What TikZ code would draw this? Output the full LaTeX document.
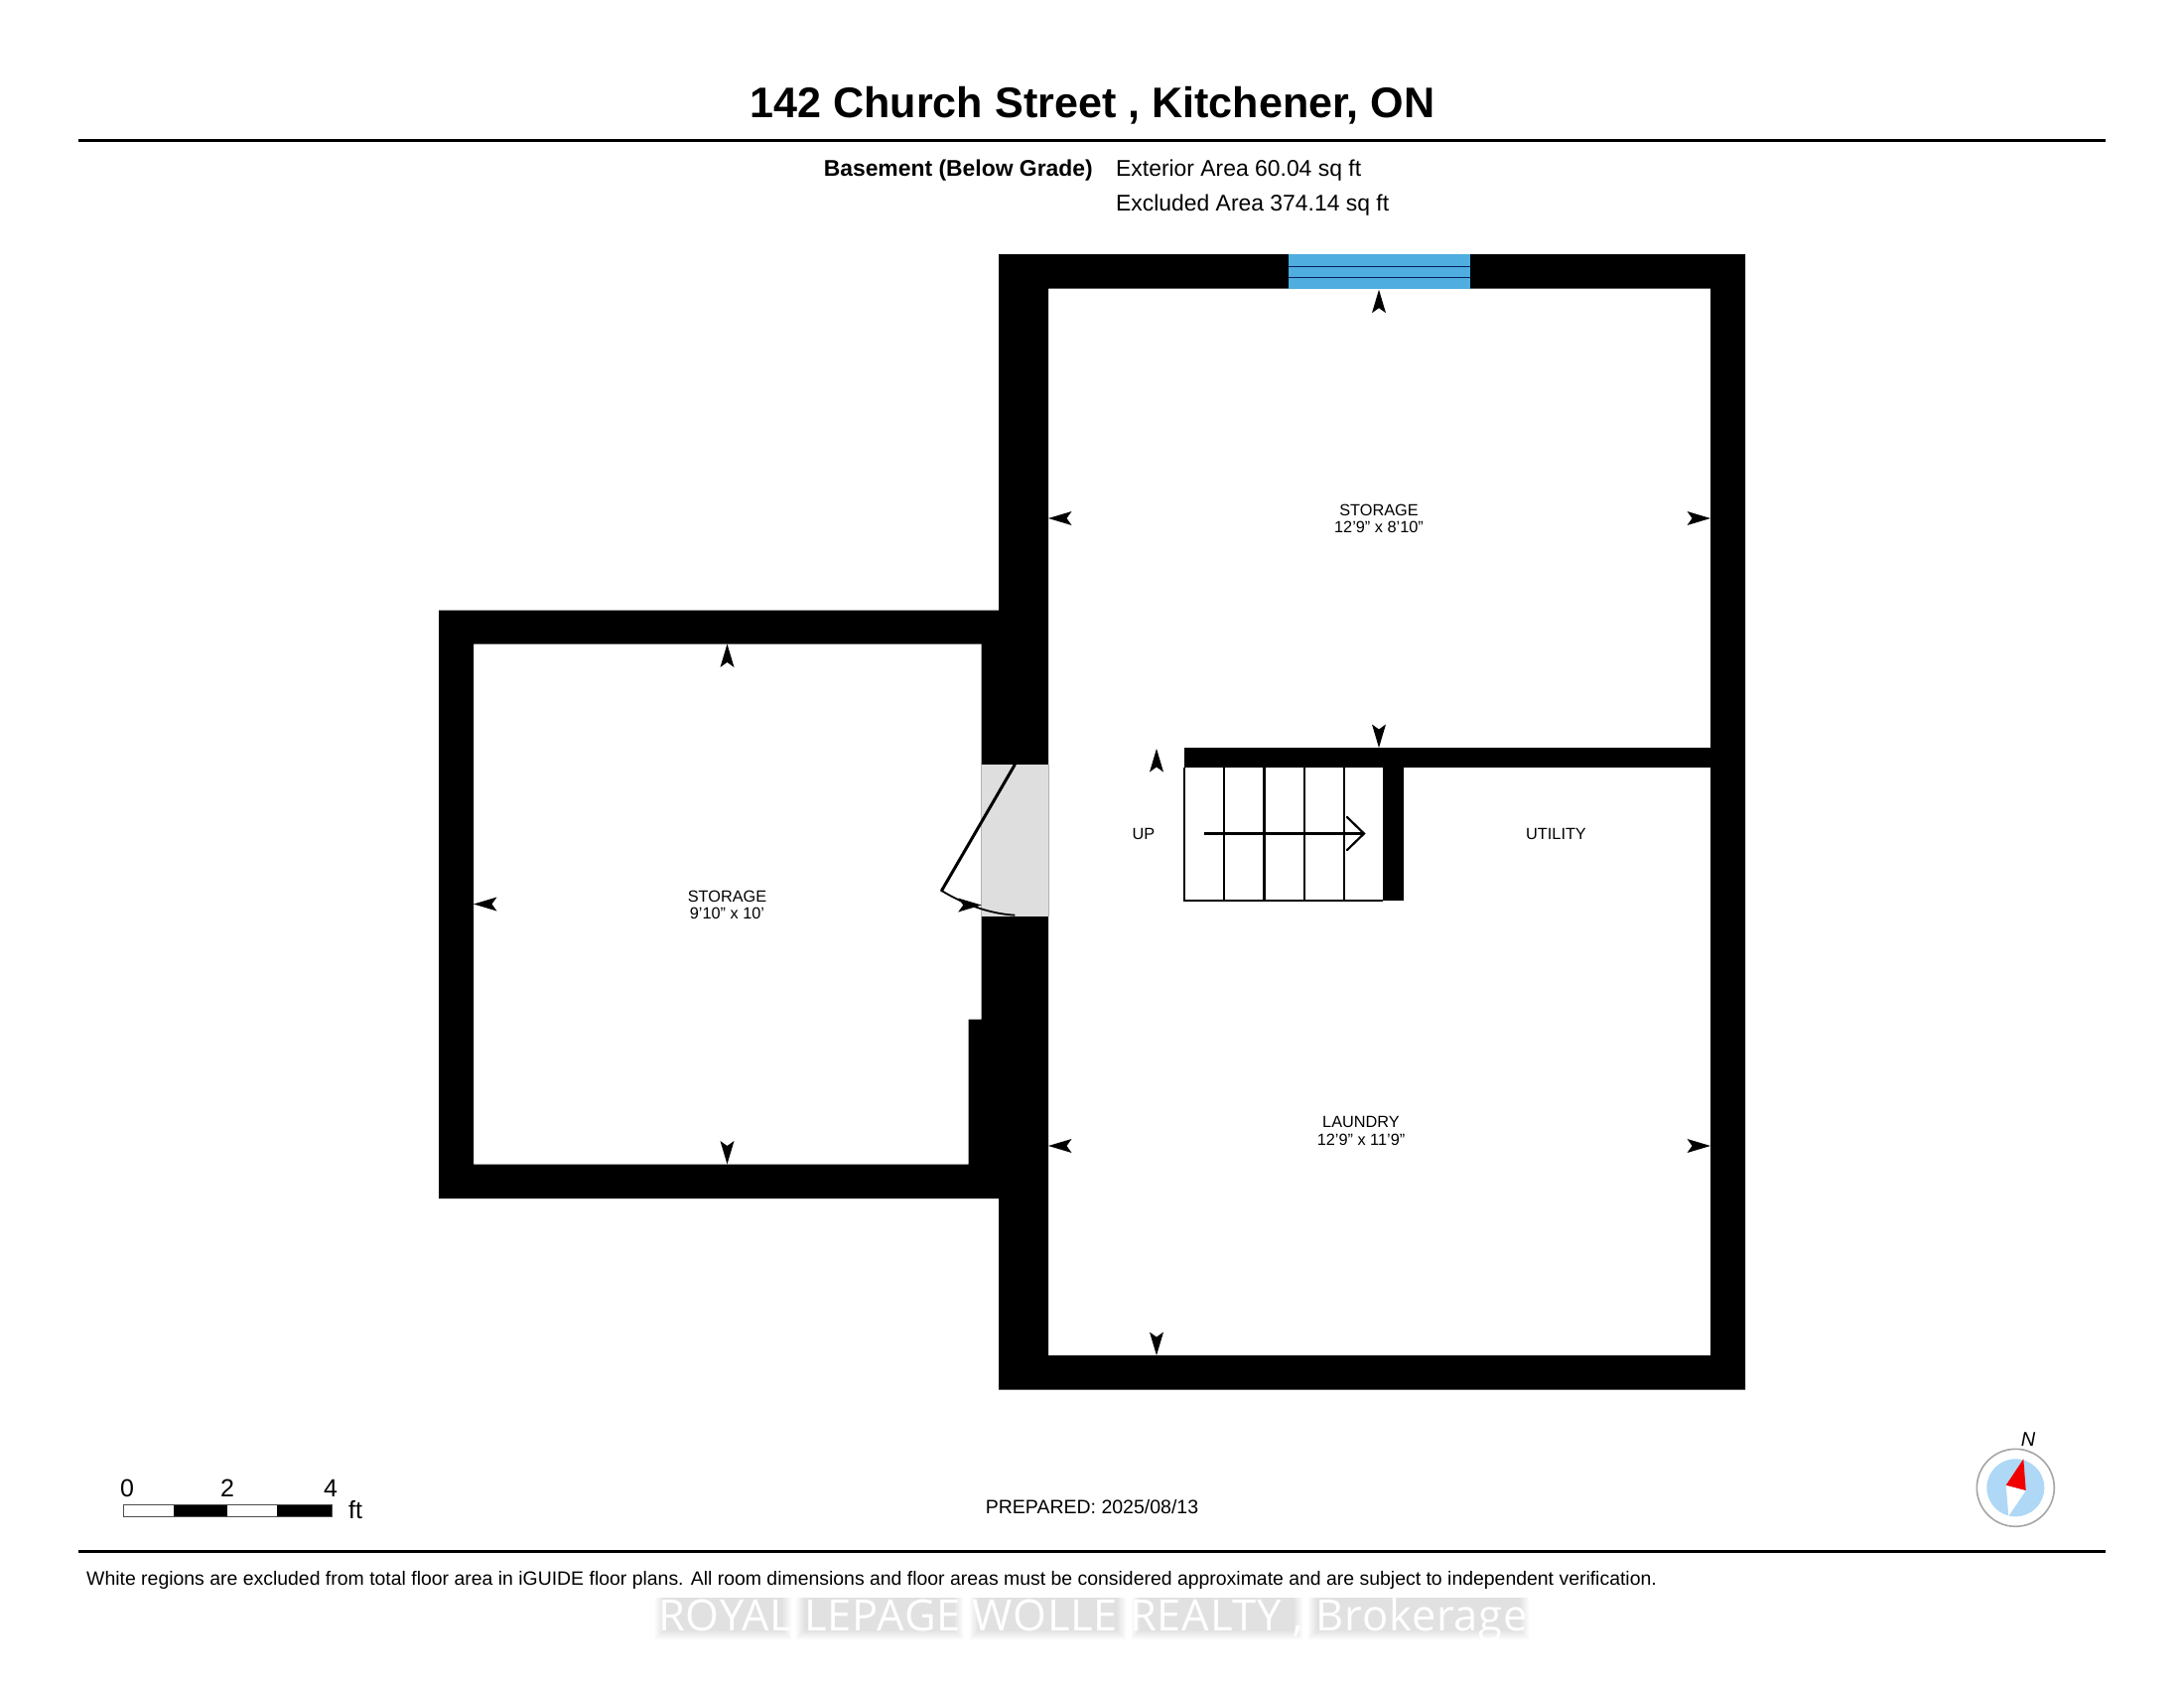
\documentclass[tikz,border=0pt]{standalone}
\usepackage{fontspec}
\setmainfont{Liberation Sans}
\newfontfamily\wmfont[LetterSpace=1.8]{Open Sans}
\newcommand{\fsz}[1]{\fontsize{#1}{#1}\selectfont}
\tikzset{
  wall/.style={fill=black,draw=none},
  rule/.style={line width=3.6pt,draw=black},
  stairline/.style={line width=2.2pt,draw=black},
  lbl/.style={inner sep=0pt,font=\fsz{16.3},align=center,text=black},
  info/.style={inner sep=0pt,font=\fsz{22.9}},
  scalelbl/.style={inner sep=0pt,font=\fsz{25},anchor=base},
  marker/.pic={\fill[black] (0,0) -- (-7,23.5) -- (0,18.5) -- (7,23.5) -- cycle;},
}
\newcommand{\halo}[2]{%
  \foreach \ins in {0,2,4,6,8}{%
    \fill[black,opacity=0.024] (#1+\ins,1609) rectangle (#2-\ins,1651-\ins);}}
\begin{document}
\begin{tikzpicture}[x=1pt,y=-1pt]
\useasboundingbox (0,0) rectangle (2200,1700);
\fill[white] (0,0) rectangle (2200,1700);
% header
\node[inner sep=0pt,font=\fsz{43.1}\bfseries] (title) at (1100.5,106) {142 Church Street , Kitchener, ON};
\coordinate (ruleAl) at (79,141.5); \coordinate (ruleAr) at (2121,141.5);
\draw[rule] (ruleAl) -- (ruleAr);
\node[info,font=\fsz{22.9}\bfseries,anchor=east] (level) at (1101,172) {Basement (Below Grade)};
\node[info,anchor=west] (ext) at (1124,172) {Exterior Area 60.04 sq ft};
\node[info,anchor=west] (exc) at (1124,207) {Excluded Area 374.14 sq ft};
% walls
\fill[wall,even odd rule]
  (1006,256) -- (1758,256) -- (1758,1399.7) -- (1006,1399.7) -- (1006,1207) -- (442,1207)
  -- (442,614.5) -- (1006,614.5) -- cycle
  (1056,290.5) -- (1723,290.5) -- (1723,1365) -- (1056,1365) -- (1056,1026.5) -- (975.5,1026.5)
  -- (975.5,1172.5) -- (477,1172.5) -- (477,648.5) -- (988.7,648.5) -- (988.7,1026.5) -- (1056,1026.5) -- cycle;
\fill[wall] (988.7,1026.5) rectangle (1056,648);
% door opening
\fill[black!13] (988.7,770) rectangle (1056,922.7);
\draw[black!30,line width=0.6pt] (988.7,770) -- (988.7,922.7) (1056,770) -- (1056,922.7);
\draw[line width=3pt,line cap=round] (1022.3,770) -- (948.5,897);
\draw[line width=1.8pt] (948.5,897) .. controls (970,910) and (995,920) .. (1022.3,921.7);
% window
\definecolor{winblue}{HTML}{4FADE0}
\definecolor{winline}{HTML}{0B1F5C}
\fill[winblue] (1298.3,256) rectangle (1481,290.5);
\draw[winline,line width=1.3pt] (1298.3,268.4) -- (1481,268.4) (1298.3,279.3) -- (1481,279.3);
% partition and stair
\fill[wall] (1193,753) rectangle (1723,772.5);
\fill[wall] (1193,753) rectangle (1393,773);
\fill[wall] (1393.3,753) rectangle (1414,906.7);
\draw[stairline] (1193,773) -- (1193,906.7) -- (1393.3,906.7);
\foreach \sx in {1233,1273.5,1314,1354}{\draw[stairline] (\sx,773) -- (\sx,906.7);}
\draw[stairline] (1213,839.5) -- (1374,839.5);
\draw[stairline,line cap=round] (1357,823) -- (1374,839.5) -- (1357,856);
% markers
\pic at (1389,291.7) {marker};
\pic[rotate=90] at (1056,522) {marker};
\pic[rotate=-90] at (1723,522) {marker};
\pic[rotate=180] at (1389,753) {marker};
\pic at (1165,754) {marker};
\pic[rotate=90] at (1056,1154) {marker};
\pic[rotate=-90] at (1723,1154) {marker};
\pic[rotate=180] at (1165,1365) {marker};
\pic at (732.5,648.5) {marker};
\pic[rotate=180] at (732.5,1172.5) {marker};
\pic[rotate=90] at (477,910.5) {marker};
\pic[rotate=-90] at (988.7,911.5) {marker};
% room labels
\node[lbl] (r1) at (1389,522) {STORAGE\\[0.8pt]12'9" x 8'10"};
\node[lbl] (r2) at (732.5,911.5) {STORAGE\\[0.8pt]9'10" x 10'};
\node[lbl] (r3) at (1371,1139) {LAUNDRY\\[0.8pt]12'9" x 11'9"};
\node[lbl] (up) at (1152,840) {UP};
\node[lbl] (util) at (1567.5,840) {UTILITY};
% scale
\fill[white] (124.3,1515.7) rectangle (175,1527.3);
\fill[black] (175,1515.7) rectangle (229,1527.3);
\fill[white] (229,1515.7) rectangle (279.3,1527.3);
\fill[black] (279.3,1515.7) rectangle (334,1527.3);
\draw[black!70,line width=1pt] (124.3,1515.7) rectangle (334,1527.3);
\node[scalelbl] (s0) at (128,1507) {0};
\node[scalelbl] (s2) at (229,1507) {2};
\node[scalelbl] (s4) at (333,1507) {4};
\node[scalelbl,anchor=base west] (sft) at (351,1529.7) {ft};
% footer
\node[inner sep=0pt,font=\fsz{19.5}] (prep) at (1100,1518) {PREPARED: 2025/08/13};
\draw[rule] (79,1562.3) -- (2121,1562.3);
\node[inner sep=0pt,font=\fsz{19.43},anchor=west] (foot) at (87,1591.5) {White regions are excluded from total floor area in iGUIDE floor plans. All room dimensions and floor areas must be considered approximate and are subject to independent verification.};
% compass
\definecolor{compblue}{HTML}{AED8F5}
\draw[black!35,line width=1.6pt,fill=white] (2030.3,1498.3) circle (39);
\fill[compblue] (2030.3,1498.3) circle (29);
\fill[white] (2020.7,1495.7) -- (2040.7,1501) -- (2023.3,1526.7) -- cycle;
\fill[red!95!black] (2038.3,1469.3) -- (2020.7,1495.7) -- (2040.7,1501) -- cycle;
\node[inner sep=0pt,font=\fsz{20}\itshape] (north) at (2043,1450) {N};
% watermark
\halo{660}{797}
\halo{802}{970}
\halo{977}{1134}
\halo{1140}{1312}
\halo{1318}{1540}
\node[inner sep=0pt,font=\wmfont\fsz{43.5},text=white] (wm) at (1101,1631.5) {ROYAL LEPAGE WOLLE REALTY , Brokerage};
\end{tikzpicture}
\end{document}
